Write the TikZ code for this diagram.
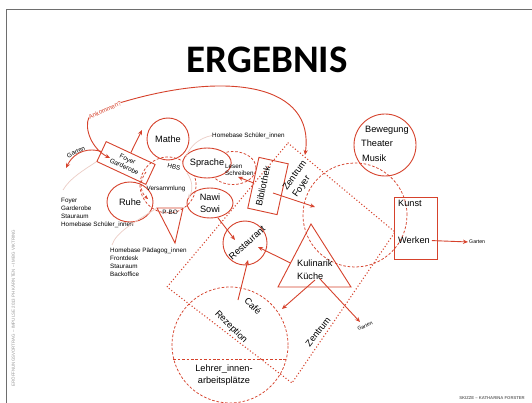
\documentclass[tikz,border=0pt]{standalone}
\usepackage{fontspec}
\setmainfont{Liberation Sans}
\newfontfamily\titlefont{Carlito}
\usetikzlibrary{arrows.meta,shapes.geometric}
\definecolor{rd}{RGB}{214,66,44}
\definecolor{lt}{RGB}{236,205,198}
\definecolor{fr}{RGB}{110,110,110}
\definecolor{sg}{RGB}{150,150,150}
\begin{document}
\begin{tikzpicture}[x=1pt,y=-1pt,
  sol/.style={draw=rd,line width=0.9pt},
  dsh/.style={draw=rd,line width=0.75pt,dash pattern=on 2.6pt off 1.8pt},
  dotl/.style={draw=rd,line width=1.5pt,line cap=round,dash pattern=on 0pt off 3.2pt},
  arr/.style={draw=rd,line width=0.9pt,-{Stealth[length=5pt,width=4.2pt]}},
  larr/.style={draw=lt,line width=0.7pt,-{Stealth[length=4pt,width=3.5pt]}},
  light/.style={draw=lt,line width=0.7pt},
  lblbig/.style={font=\fontsize{9.2}{12}\selectfont,text=black,inner sep=0pt,align=center},
  lblsml/.style={font=\fontsize{6.3}{8.2}\selectfont,text=black,inner sep=0pt,align=left},
  lbltiny/.style={font=\fontsize{5.2}{6}\selectfont,text=black,inner sep=0pt},
]
\useasboundingbox (0,0) rectangle (532,403);
\fill[white] (0,0) rectangle (532,403);

% frame and page texts
\coordinate (f1) at (532,9); \coordinate (f2) at (6,9); \coordinate (f3) at (6,403);
\draw[fr,line width=0.9pt] (f1) -- (f2) -- (f3);
\node[font=\titlefont\bfseries\fontsize{39}{39}\selectfont,inner sep=0pt] (title) at (267,60) {ERGEBNIS};
\node[font=\fontsize{4.4}{5}\selectfont,text=sg,inner sep=0pt,rotate=90] (side) at (13,308) {ERÖFFNUNGSVORTRAG – IMPULSE 2013 PH KÄRNTEN – IM BG VIKTRING};
\node[font=\bfseries\fontsize{4.2}{5}\selectfont,text=fr,inner sep=0pt] (foot) at (492,398) {SKIZZE – KATHARINA FORSTER};

% dotted Zentrum square
\coordinate (zT) at (288,143); \coordinate (zR) at (395,232);
\coordinate (zB) at (292,383); \coordinate (zL) at (167,287);
\draw[dotl] (zT) -- (zR) -- (zB) -- (zL) -- cycle;
\node[lblbig,rotate=52] (zentrum) at (318,332) {Zentrum};

% dashed circles
\node[dsh,circle,minimum size=104pt] (zfoy) at (355,215) {};
\node[dsh,circle,minimum size=116pt] (lehr) at (230,345) {};
\draw[dsh] (lehr.194) -- (lehr.-14);
\node[lblbig,rotate=-45] (cafe) at (253,306) {Café};
\node[lblbig,rotate=-45] (rez) at (231,327) {Rezeption};
\node[lblbig] (lehrt) at (224,375) {Lehrer\_innen-\\arbeitsplätze};

\node[dsh,circle,minimum size=56pt] (hbs) at (168,185) {};
\node[dsh,ellipse,minimum width=46pt,minimum height=33pt] (les) at (233,168) {};

% solid shapes
\node[sol,circle,minimum size=42pt,lblbig] (mathe) at (168,139) {Mathe};
\node[sol,ellipse,minimum width=46pt,minimum height=40pt,lblbig] (ruhe) at (130,202) {Ruhe};
\node[sol,ellipse,fill=white,minimum width=40pt,minimum height=30pt,lblbig] (spr) at (207,163) {Sprache};
\node[sol,ellipse,minimum width=46pt,minimum height=30pt,lblbig] (nawi) at (210,203) {Nawi\\Sowi};
\node[sol,circle,minimum size=62pt] (bew) at (385,145) {};
\node[sol,circle,minimum size=44pt] (rest) at (245,243) {};
\node[lblbig,rotate=42] (restt) at (247,243) {Restaurant};
\node[sol,rectangle,minimum width=43pt,minimum height=62pt] (kunst) at (415.5,228) {};
\node[sol,rectangle,rotate=-25,minimum width=54pt,minimum height=22pt,font=\fontsize{6.5}{8}\selectfont,inner sep=0pt,align=center] (fb) at (126,163) {Foyer\\Garderobe};
\node[sol,rectangle,rotate=77.6,minimum width=52pt,minimum height=30pt] (bib) at (268,186) {};
\node[lblbig,rotate=77.6] (bibt) at (263,186) {Bibliothek};
\node[lblbig,rotate=55,align=left] (zft) at (300,179) {Zentrum\\Foyer};

% triangles
\coordinate (kt1) at (311,224); \coordinate (kt2) at (278,287); \coordinate (kt3) at (351,287);
\draw[sol] (kt1) -- (kt2) -- (kt3) -- cycle;
\node[lblbig,align=left,anchor=west,font=\fontsize{9.2}{13}\selectfont] (kul) at (297,270) {Kulinarik\\Küche};
\coordinate (pb1) at (157,208); \coordinate (pb2) at (183,208); \coordinate (pb3) at (175,243);
\draw[sol] (pb1) -- (pb2) -- (pb3) -- cycle;
\node[lblsml] (pbo) at (170,212) {P-BO};

% texts
\node[lblsml,rotate=-15] (hbst) at (174,167) {HBS};
\node[lblsml] (vers) at (166,189) {Versammlung};
\node[lblsml,anchor=west,font=\fontsize{6.3}{7}\selectfont] (lest) at (225,169.5) {Lesen\\Schreiben};
\node[lblbig,anchor=west] (bewt) at (365,130) {Bewegung};
\node[lblbig,anchor=west] (theat) at (361,143.5) {Theater};
\node[lblbig,anchor=west] (musik) at (362,158.5) {Musik};
\node[lblbig,anchor=west] (kunt) at (398,203.5) {Kunst};
\node[lblbig,anchor=west] (wer) at (398,240.5) {Werken};
\node[lbltiny,anchor=west] (g3) at (469,242) {Garten};
\node[lbltiny,rotate=22] (g2) at (365,326) {Garten};
\node[lblsml,rotate=25] (g1) at (76,152) {Garten};
\node[lblsml,rotate=25,text=rd] (ank) at (105,110) {Ankommen?};
\node[lblsml,anchor=north west] (an1) at (61,197.5) {Foyer\\Garderobe\\Stauraum\\Homebase Schüler\_innen};
\node[lblsml,anchor=north west] (an2) at (110,247.5) {Homebase Pädagog\_innen\\Frontdesk\\Stauraum\\Backoffice};
\node[lblsml,anchor=west] (an3) at (212,135.5) {Homebase Schüler\_innen};

% light connectors
\coordinate (l1) at (63,190);
\draw[light] (l1) .. controls (70,178) and (84,170) .. (fb.south west);
\coordinate (l2) at (112,245);
\draw[light] (l2) .. controls (116,232) and (135,222) .. (pb1);
\coordinate (l3) at (186,157);
\draw[light] (an3.west) .. controls (199,138) and (190,146) .. (l3);
\coordinate (v1) at (187,173); \coordinate (v2) at (188,198);
\draw[larr] (v1) .. controls (193,181) and (193,191) .. (v2);
\coordinate (v3) at (146,172); \coordinate (v4) at (148,199);
\draw[dsh,-{Stealth[length=4pt,width=3.5pt]}] (v3) .. controls (139,181) and (140,192) .. (v4);

% arrows
\coordinate (fbt) at (110,158);
\draw[arr] (ank.west) .. controls (84,129) and (92,149) .. (fbt);
\coordinate (zft1) at (305,155);
\draw[arr] (ank.east) .. controls (230,70) and (315,85) .. (zft1);
\coordinate (up1) at (142,130);
\draw[arr] (fb.north) -- (up1);
\coordinate (gt1) at (66,168);
\draw[arr] (fb.west) .. controls (90,148) and (75,150) .. (gt1);
\coordinate (lt1) at (238,177);
\draw[arr] (bib.north) -- (lt1);
\coordinate (b2) at (273,193); \coordinate (zf1) at (315,207);
\draw[arr] (b2) -- (zf1);
\coordinate (r1) at (235,240);
\draw[arr] (nawi.-62) -- (r1);
\coordinate (k1) at (290.5,263); \coordinate (r2) at (258,247);
\draw[arr] (k1) -- (r2);
\coordinate (c1) at (238,300); \coordinate (r3) at (248,260);
\draw[arr] (c1) -- (r3);
\coordinate (k2) at (315,280); \coordinate (k3) at (282,309);
\draw[arr] (k2) -- (k3);
\coordinate (k4) at (320,279); \coordinate (k5) at (360,322);
\draw[arr] (k4) -- (k5);
\draw[arr,shorten <=2pt,shorten >=1pt] (wer.east) -- (g3.west);
\end{tikzpicture}
\end{document}
